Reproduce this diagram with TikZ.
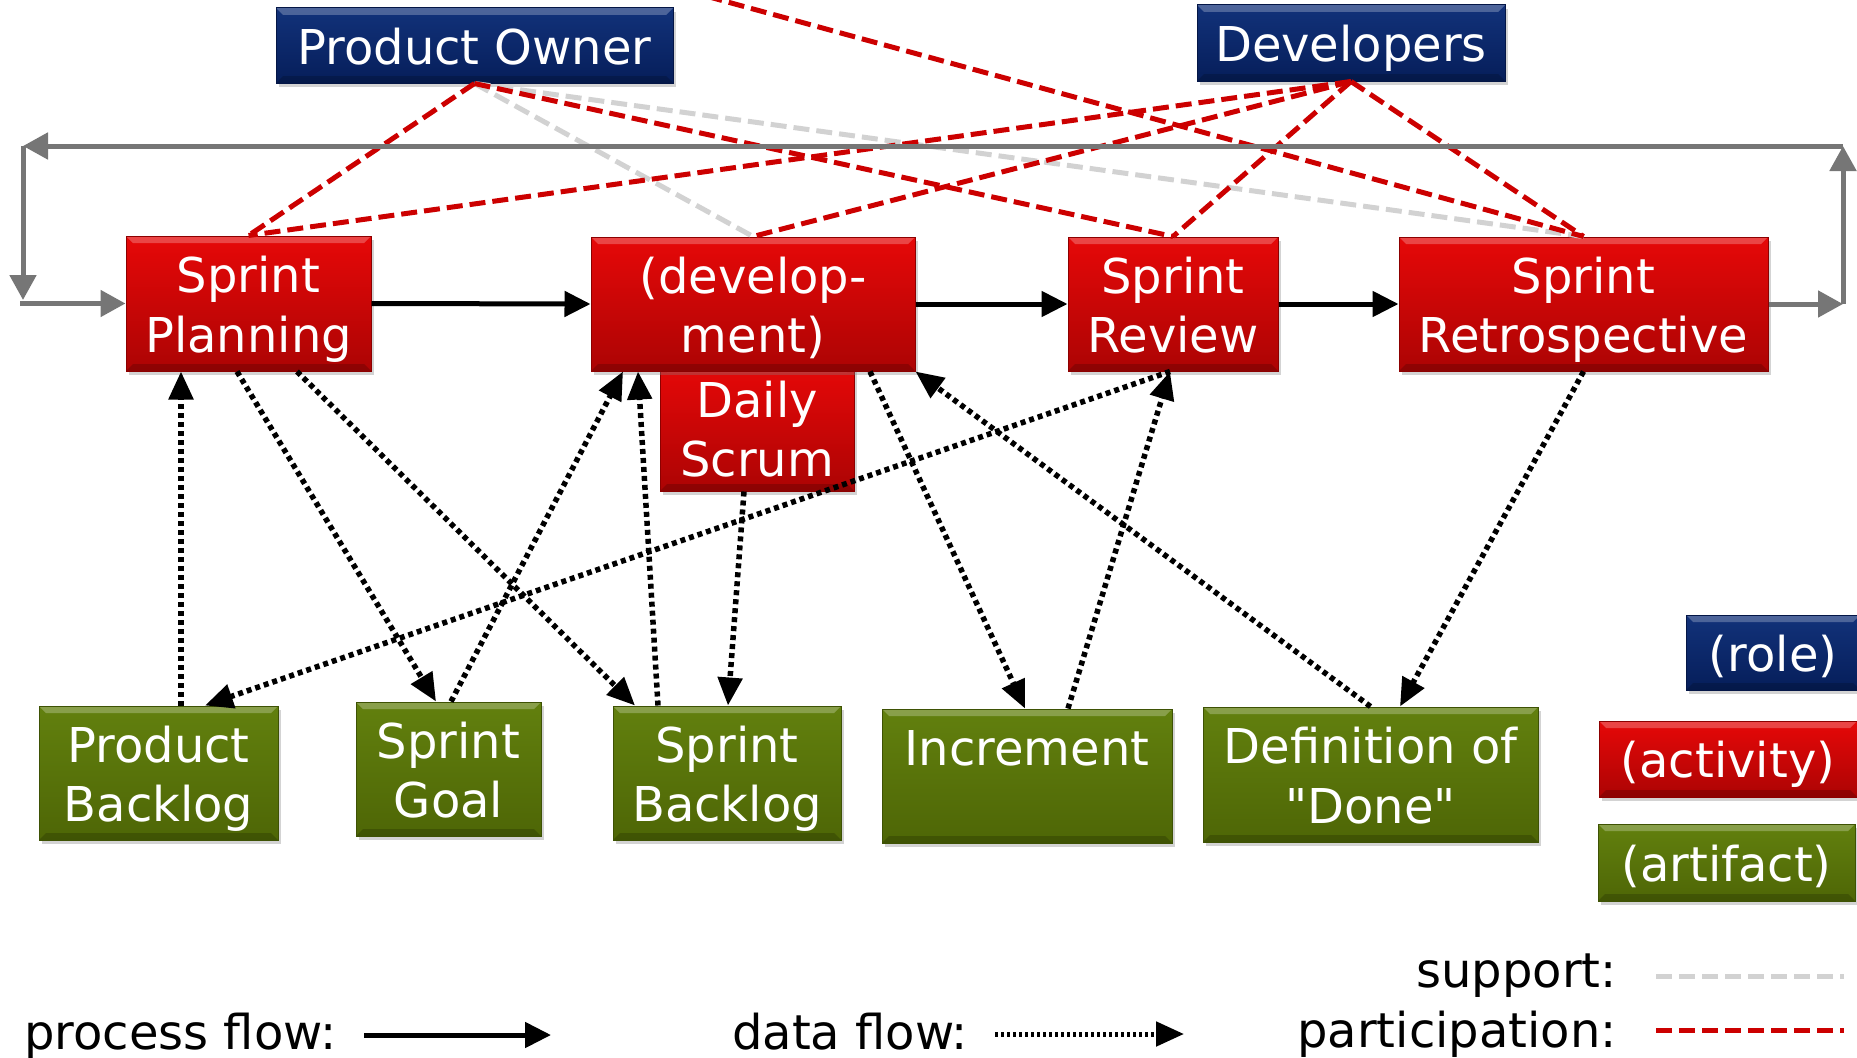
\documentclass[tikz,border=0pt]{standalone}
\usepackage{fontspec}
\setmainfont{DejaVu Sans}[Ligatures=TeXOff]
\usetikzlibrary{arrows.meta,shadows}

% box fills: top / bottom of the gradient and the edge colour
\definecolor{roleTop}{RGB}{18,50,122}
\definecolor{roleBot}{RGB}{6,30,90}
\definecolor{roleEdge}{RGB}{4,22,70}
\definecolor{actTop}{RGB}{230,8,8}
\definecolor{actBot}{RGB}{172,4,4}
\definecolor{actEdge}{RGB}{140,0,0}
\definecolor{artTop}{RGB}{98,128,14}
\definecolor{artBot}{RGB}{78,102,6}
\definecolor{artEdge}{RGB}{62,82,4}
\definecolor{partRed}{RGB}{204,0,0}
\definecolor{suppGray}{RGB}{210,210,210}
\definecolor{cycleGray}{RGB}{118,118,118}

% line strut: every text line gets the same ascent and descent
\newcommand{\lnstrut}{\rule[-0.21em]{0pt}{1.21em}}

\begin{document}
\begin{tikzpicture}[x=1pt,y=-1pt,
  font=\fontsize{48}{58}\selectfont,
  bevel/.style={path picture={
    \fill[white,opacity=0.25] (path picture bounding box.north west) -- (path picture bounding box.north east)
      -- ([shift={(-7pt,-7pt)}]path picture bounding box.north east) -- ([shift={(7pt,-7pt)}]path picture bounding box.north west) -- cycle;
    \fill[black,opacity=0.18] (path picture bounding box.south west) -- (path picture bounding box.south east)
      -- ([shift={(-7pt,7pt)}]path picture bounding box.south east) -- ([shift={(7pt,7pt)}]path picture bounding box.south west) -- cycle;
  }},
  scrumbox/.style={draw=#1Edge, line width=1pt, top color=#1Top, bottom color=#1Bot,
    text=white, align=center, inner sep=0pt, bevel,
    drop shadow={shadow xshift=3pt, shadow yshift=-4pt, opacity=0.35}},
  procflow/.style={line width=5pt, black, -{Triangle[length=26pt,width=25pt]}},
  cyclearrow/.style={line width=5pt, cycleGray, -{Triangle[length=25pt,width=26pt]}},
  dataflow/.style={line width=5.5pt, black, dash pattern=on 5pt off 4pt, -{Triangle[length=28pt,width=24pt]}},
  partline/.style={line width=5pt, partRed, dash pattern=on 16pt off 7pt},
  suppline/.style={line width=5pt, suppGray, dash pattern=on 16pt off 7pt},
  legendtext/.style={text=black, inner sep=0pt}
]
\useasboundingbox (0,0) rectangle (1857,1057);

% roles
\node[scrumbox=role, minimum width=397pt, minimum height=75pt] (po) at (474.5,45.5) {\lnstrut Product Owner};
\node[scrumbox=role, minimum width=308pt, minimum height=76pt] (devs) at (1351,43) {\lnstrut Developers};

% activities (the daily scrum sits behind the development box)
\node[scrumbox=act, minimum width=194pt, minimum height=126pt] (ds) at (757,428) {\lnstrut Daily\\\lnstrut Scrum};
\node[scrumbox=act, minimum width=245pt, minimum height=135pt] (sp) at (248.5,303.5) {\lnstrut Sprint\\\lnstrut Planning};
\node[scrumbox=act, minimum width=324pt, minimum height=134pt] (dev) at (753,304) {\lnstrut (develop-\\\lnstrut ment)};
\node[scrumbox=act, minimum width=210pt, minimum height=134pt] (rev) at (1173,304) {\lnstrut Sprint\\\lnstrut Review};
\node[scrumbox=act, minimum width=369pt, minimum height=134pt] (retro) at (1583.5,304) {\lnstrut Sprint\\\lnstrut Retrospective};

% artifacts
\node[scrumbox=art, minimum width=239pt, minimum height=134pt] (pb) at (158.5,773) {\lnstrut Product\\\lnstrut Backlog};
\node[scrumbox=art, minimum width=185pt, minimum height=134pt] (sg) at (448.5,769) {\lnstrut Sprint\\\lnstrut Goal};
\node[scrumbox=art, minimum width=228pt, minimum height=134pt] (sb) at (727,773) {\lnstrut Sprint\\\lnstrut Backlog};
\node[scrumbox=art, minimum width=290pt, minimum height=134pt] (inc) at (1027,776) {\lnstrut Increment\\\lnstrut};
\node[scrumbox=art, minimum width=335pt, minimum height=135pt] (dod) at (1370.5,774.5) {\lnstrut Definition of\\\lnstrut "Done"};

% key boxes
\node[scrumbox=role, minimum width=174pt, minimum height=75pt] (keyrole) at (1773,652.5) {\lnstrut (role)};
\node[scrumbox=act, minimum width=258pt, minimum height=76pt] (keyact) at (1728,759) {\lnstrut (activity)};
\node[scrumbox=art, minimum width=257pt, minimum height=77pt] (keyart) at (1726.5,862.5) {\lnstrut (artifact)};

% support links
\draw[suppline] (po.south) -- (dev.north);
\draw[suppline] (po.south) -- (retro.north);

% participation links
\coordinate (offtop) at (640,-22);
\draw[partline] (offtop) -- (retro.north);
\draw[partline] (po.south) -- (sp.north);
\draw[partline] (po.south) -- (rev.north);
\draw[partline] (devs.south) -- (sp.north);
\draw[partline] (devs.south) -- (dev.north);
\draw[partline] (devs.south) -- (rev.north);
\draw[partline] (devs.south) -- (retro.north);

% sprint cycle
\coordinate (cycRB) at (1843,304);
\coordinate (cycRT) at (1843,146);
\coordinate (cycLT) at (23,146);
\coordinate (cycLB) at (23,300);
\coordinate (cycIn) at (20,303.5);
\draw[cyclearrow] (retro.east) -- (cycRB);
\draw[cyclearrow] (cycRB) -- (cycRT);
\draw[cyclearrow] (cycRT) -- (cycLT);
\draw[cyclearrow] (cycLT) -- (cycLB);
\draw[cyclearrow] (cycIn) -- (sp.west);

% process flow
\draw[procflow] (sp.east) -- (dev.west);
\draw[procflow] (dev.east) -- (rev.west);
\draw[procflow] (rev.east) -- (retro.west);

% data flow
\draw[dataflow] ([xshift=22.5pt]pb.north) -- ([xshift=-67.5pt]sp.south);
\draw[dataflow] ([xshift=-11.5pt]sp.south) -- ([xshift=-12.5pt]sg.north);
\draw[dataflow] ([xshift=48.5pt]sp.south) -- ([xshift=-92pt]sb.north);
\draw[dataflow] ([xshift=2.5pt]sg.north) -- ([xshift=-130pt]dev.south);
\draw[dataflow] ([xshift=-69pt]sb.north) -- ([xshift=-115pt]dev.south);
\draw[dataflow] ([xshift=-13pt]ds.south) -- ([xshift=1pt]sb.north);
\draw[dataflow] ([xshift=-3pt]rev.south) -- ([xshift=46.5pt]pb.north);
\draw[dataflow] ([xshift=41pt]inc.north) -- ([xshift=-3pt]rev.south);
\draw[dataflow] ([xshift=117pt]dev.south) -- ([xshift=-2pt]inc.north);
\draw[dataflow] (dod.north) -- (dev.south east);
\draw[dataflow] (retro.south) -- ([xshift=29.5pt]dod.north);

% line key
\node[legendtext, anchor=base east] (keysupp) at (1617,987) {support:};
\node[legendtext, anchor=base east] (keypart) at (1617,1047) {participation:};
\node[legendtext, anchor=base west] (keyproc) at (24,1049) {process flow:};
\node[legendtext, anchor=base west] (keydata) at (732,1049) {data flow:};
\coordinate (ksA) at (1656,976);  \coordinate (ksB) at (1844,976);
\coordinate (kpA) at (1656,1030); \coordinate (kpB) at (1844,1030);
\coordinate (kfA) at (364,1035);  \coordinate (kfB) at (551,1035);
\coordinate (kdA) at (995,1034);  \coordinate (kdB) at (1184,1034);
\draw[suppline] (ksA) -- (ksB);
\draw[partline] (kpA) -- (kpB);
\draw[procflow] (kfA) -- (kfB);
\draw[dataflow, line width=5pt, dash pattern=on 3pt off 3pt] (kdA) -- (kdB);
\end{tikzpicture}
\end{document}
